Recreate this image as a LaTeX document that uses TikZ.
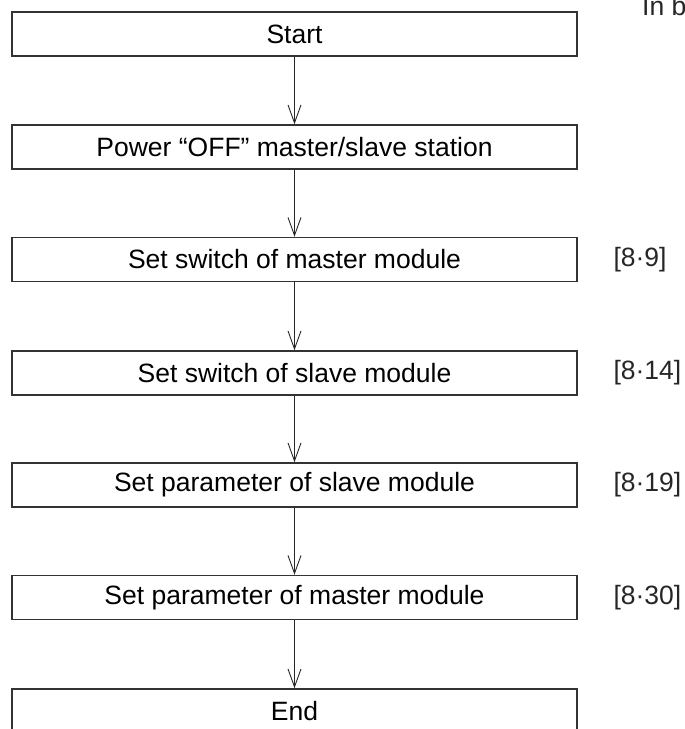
\documentclass[tikz,border=0pt]{standalone}
\usepackage{fontspec}
\setmainfont{Liberation Sans}
\usetikzlibrary{arrows.meta}

\begin{document}
\begin{tikzpicture}[
  x=1pt,
  y=-1pt,
  font=\fontsize{26.5}{30}\selectfont,
  proc/.style={draw=black!80, line width=1.5pt, minimum width=565pt, minimum height=44pt, inner sep=0pt},
  flow/.style={draw=black!85, line width=0.9pt, -{Straight Barb[length=18pt, width=13pt, line width=0.9pt]}},
  ref/.style={anchor=west, text=black!85},
]
  \useasboundingbox (0,0) rectangle (685,729);
  \clip (0,0) rectangle (685,729);

  % steps
  \node[proc] (start)  at (294.5,34)  {Start};
  \node[proc] (power)  at (294.5,147) {Power “OFF” master/slave station};
  \node[proc] (swmst)  at (294.5,259.5) {Set switch of master module};
  \node[proc] (swslv)  at (294.5,373) {Set switch of slave module};
  \node[proc] (parslv) at (294.5,485) {Set parameter of slave module};
  \node[proc] (parmst) at (294.5,597.5) {Set parameter of master module};
  \node[proc] (finish) at (294.5,711) {End};

  % page references
  \node[ref] (refa) at (610,259.5) {[8·9]};
  \node[ref] (refb) at (610,373) {[8·14]};
  \node[ref] (refc) at (610,485) {[8·19]};
  \node[ref] (refd) at (610,597.5) {[8·30]};

  % cut off heading
  \node[anchor=base west, inner sep=0pt, text=black!85] (note) at (642,15) {In b};

  \draw[flow] (start) -- (power);
  \draw[flow] (power) -- (swmst);
  \draw[flow] (swmst) -- (swslv);
  \draw[flow] (swslv) -- (parslv);
  \draw[flow] (parslv) -- (parmst);
  \draw[flow] (parmst) -- (finish);
\end{tikzpicture}
\end{document}
